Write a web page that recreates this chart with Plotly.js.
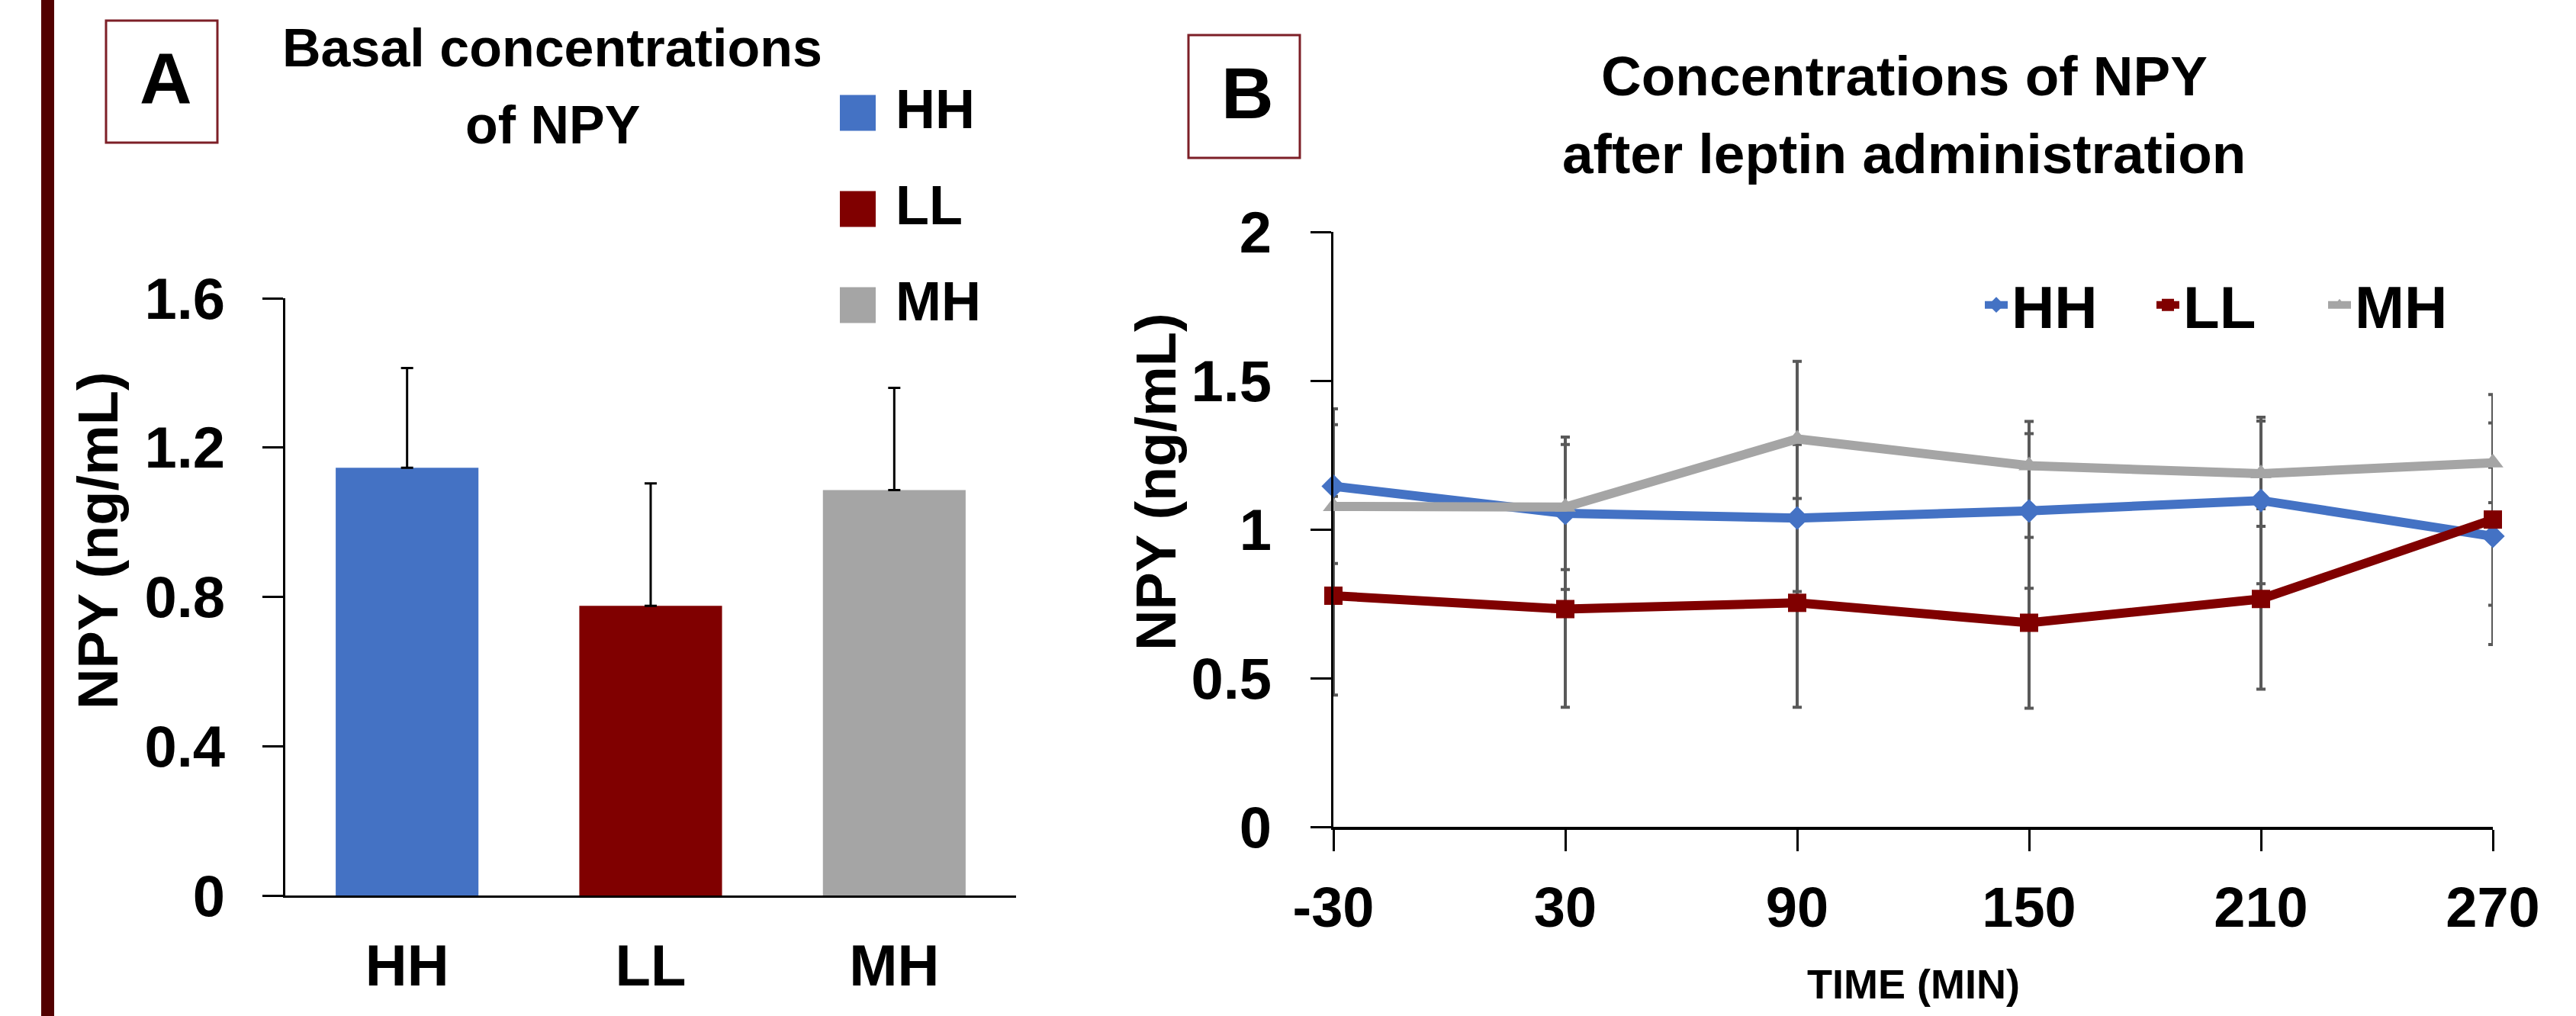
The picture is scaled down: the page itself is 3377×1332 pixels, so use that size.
<!DOCTYPE html>
<html>
<head>
<meta charset="utf-8">
<script src="https://cdn.plot.ly/plotly-3.0.1.min.js"></script>
<style>
html, body { margin: 0; padding: 0; background: #ffffff; overflow: hidden; }
#chart { width: 3377px; height: 1332px; overflow: hidden; }
</style>
</head>
<body>
<div id="chart"></div>
<script>
// ---------------- DATA ----------------
const groups = ['HH', 'LL', 'MH'];
const basalMean = [1.146, 0.776, 1.086];
const basalSE = [0.267, 0.328, 0.274];
const yTicksA = [0, 0.4, 0.8, 1.2, 1.6];

const timeMin = [-30, 30, 90, 150, 210, 270];
const npyHH = [1.145, 1.054, 1.038, 1.062, 1.097, 0.977];
const npyLL = [0.777, 0.732, 0.753, 0.686, 0.766, 1.033];
const npyMH = [1.077, 1.075, 1.304, 1.214, 1.187, 1.224];
const seHH = [0.260, 0.256, 0.247, 0.260, 0.280, 0.232];
const seLL = [0.334, 0.330, 0.351, 0.287, 0.303, 0.420];
const seMH = [0.275, 0.210, 0.261, 0.149, 0.177, 0.134];
const yTicksB = [0, 0.5, 1, 1.5, 2];

const titleA = ['Basal concentrations', 'of NPY'];
const titleB = ['Concentrations of NPY', 'after leptin administration'];
const yTitle = 'NPY (ng/mL)';
const xTitleB = 'TIME (MIN)';

// ---------------- STYLE ----------------
const W = 3377, H = 1332;
const px = v => v / W;
const py = v => 1 - v / H;
const FONT = 'Liberation Sans, Arial, sans-serif';
const groupColors = ['#4472C4', '#800000', '#A5A5A5'];
const groupSymbols = ['diamond', 'square', 'triangle-up'];
const seriesB = [npyHH, npyLL, npyMH];
const seB = [seHH, seLL, seMH];

const traces = [];

// Panel A bars
traces.push({
  type: 'bar',
  x: groups,
  y: basalMean,
  xaxis: 'x', yaxis: 'y',
  marker: { color: groupColors, line: { width: 0 } },
  error_y: {
    type: 'data', symmetric: false,
    array: basalSE, arrayminus: basalSE.map(() => 0),
    color: '#000000', thickness: 3, width: 8
  },
  showlegend: false,
  hoverinfo: 'x+y'
});

// Panel B error bars (drawn first, underneath lines)
groups.forEach((g, i) => {
  traces.push({
    type: 'scatter', mode: 'markers',
    x: timeMin, y: seriesB[i],
    xaxis: 'x2', yaxis: 'y2',
    marker: { size: 1, opacity: 0, color: groupColors[i] },
    error_y: { type: 'data', array: seB[i], color: '#595959', thickness: 4, width: 6 },
    showlegend: false, hoverinfo: 'skip', cliponaxis: false
  });
});

// Panel B lines
groups.forEach((g, i) => {
  traces.push({
    type: 'scatter', mode: 'lines+markers',
    name: g,
    x: timeMin, y: seriesB[i],
    xaxis: 'x2', yaxis: 'y2',
    line: { color: groupColors[i], width: 12 },
    marker: { symbol: groupSymbols[i], size: 24, color: groupColors[i] },
    cliponaxis: false
  });
});

const shapes = [];
const annotations = [];

// left dark vertical band
shapes.push({ type: 'rect', xref: 'paper', yref: 'paper',
  x0: px(54), x1: px(71), y0: 0, y1: 1, fillcolor: '#520000', line: { width: 0 }, layer: 'below' });
// panel label boxes
shapes.push({ type: 'rect', xref: 'paper', yref: 'paper',
  x0: px(139), x1: px(285), y0: py(187), y1: py(27), line: { color: '#7d1f27', width: 3 } });
shapes.push({ type: 'rect', xref: 'paper', yref: 'paper',
  x0: px(1558), x1: px(1704), y0: py(207), y1: py(46), line: { color: '#7d1f27', width: 3 } });

annotations.push({ xref: 'paper', yref: 'paper', x: px(217), y: py(103), text: 'A', showarrow: false,
  xanchor: 'center', yanchor: 'middle', font: { size: 95, family: FONT, weight: 'bold', color: '#000' } });
annotations.push({ xref: 'paper', yref: 'paper', x: px(1635), y: py(122), text: 'B', showarrow: false,
  xanchor: 'center', yanchor: 'middle', font: { size: 95, family: FONT, weight: 'bold', color: '#000' } });

// titles
const titleAY = [63, 164];
titleA.forEach((t, i) => annotations.push({ xref: 'paper', yref: 'paper', x: px(724), y: py(titleAY[i]),
  text: t, showarrow: false, xanchor: 'center', yanchor: 'middle',
  font: { size: 70, family: FONT, weight: 'bold', color: '#000' } }));
const titleBY = [100, 201];
titleB.forEach((t, i) => annotations.push({ xref: 'paper', yref: 'paper', x: px(2496), y: py(titleBY[i]),
  text: t, showarrow: false, xanchor: 'center', yanchor: 'middle',
  font: { size: 73, family: FONT, weight: 'bold', color: '#000' } }));

// y titles
annotations.push({ xref: 'paper', yref: 'paper', x: px(128), y: py(708), text: yTitle, textangle: -90,
  showarrow: false, xanchor: 'center', yanchor: 'middle',
  font: { size: 74, family: FONT, weight: 'bold', color: '#000' } });
annotations.push({ xref: 'paper', yref: 'paper', x: px(1515), y: py(632), text: yTitle, textangle: -90,
  showarrow: false, xanchor: 'center', yanchor: 'middle',
  font: { size: 74, family: FONT, weight: 'bold', color: '#000' } });
// x title B
annotations.push({ xref: 'paper', yref: 'paper', x: px(2508), y: py(1290), text: xTitleB,
  showarrow: false, xanchor: 'center', yanchor: 'middle',
  font: { size: 54, family: FONT, weight: 'bold', color: '#000' } });

// Panel A legend (large square swatches)
const legAY = [148, 274, 400];
groups.forEach((g, i) => {
  shapes.push({ type: 'rect', xref: 'paper', yref: 'paper',
    x0: px(1101), x1: px(1148), y0: py(legAY[i] + 23.5), y1: py(legAY[i] - 23.5),
    fillcolor: groupColors[i], line: { width: 0 } });
  annotations.push({ xref: 'paper', yref: 'paper', x: px(1172), y: py(legAY[i] - 5), text: g,
    showarrow: false, xanchor: 'left', yanchor: 'middle',
    font: { size: 72, family: FONT, weight: 'bold', color: '#000' } });
});

const layout = {
  width: W, height: H,
  margin: { l: 0, r: 0, t: 0, b: 0, pad: 0 },
  paper_bgcolor: '#ffffff', plot_bgcolor: 'rgba(0,0,0,0)',
  font: { family: FONT, weight: 'bold', color: '#000000', size: 76 },
  bargap: 0.414,
  showlegend: true,
  legend: {
    orientation: 'h', x: px(2597), xanchor: 'left', y: py(400), yanchor: 'middle',
    font: { size: 78, family: FONT, weight: 'bold', color: '#000' },
    bgcolor: 'rgba(0,0,0,0)', itemsizing: 'trace', traceorder: 'normal',
    entrywidth: 180, entrywidthmode: 'pixels'
  },
  xaxis: {
    domain: [px(374), px(1332)], anchor: 'y', type: 'category', range: [-0.5, 2.5],
    showline: true, linecolor: '#000', linewidth: 3, ticks: '', showgrid: false, zeroline: false,
    tickfont: { size: 76, family: FONT, weight: 'bold' }, ticklabelstandoff: 24, fixedrange: true
  },
  yaxis: {
    domain: [py(1174), py(391)], anchor: 'x', range: [0, 1.6],
    tickvals: yTicksA, ticktext: yTicksA.map(String),
    ticks: 'outside', ticklen: 27, tickwidth: 2.5, tickcolor: '#000',
    showline: true, linecolor: '#000', linewidth: 2.5, showgrid: false, zeroline: false,
    tickfont: { size: 76, family: FONT, weight: 'bold' }, ticklabelstandoff: 34, fixedrange: true
  },
  xaxis2: {
    domain: [px(1748), px(3268)], anchor: 'y2', range: [-30, 270],
    tickvals: timeMin, ticktext: timeMin.map(String),
    ticks: 'outside', ticklen: 28, tickwidth: 3, tickcolor: '#000',
    showline: true, linecolor: '#000', linewidth: 4, showgrid: false, zeroline: false,
    tickfont: { size: 74, family: FONT, weight: 'bold' }, ticklabelstandoff: 10, fixedrange: true
  },
  yaxis2: {
    domain: [py(1084), py(304)], anchor: 'x2', range: [0, 2],
    tickvals: yTicksB, ticktext: yTicksB.map(String),
    ticks: 'outside', ticklen: 27, tickwidth: 2.5, tickcolor: '#000',
    showline: true, linecolor: '#000', linewidth: 2.5, showgrid: false, zeroline: false,
    tickfont: { size: 76, family: FONT, weight: 'bold' }, ticklabelstandoff: 36, fixedrange: true
  },
  shapes: shapes,
  annotations: annotations
};

Plotly.newPlot('chart', traces, layout, { displayModeBar: false, responsive: false });
</script>
</body>
</html>
